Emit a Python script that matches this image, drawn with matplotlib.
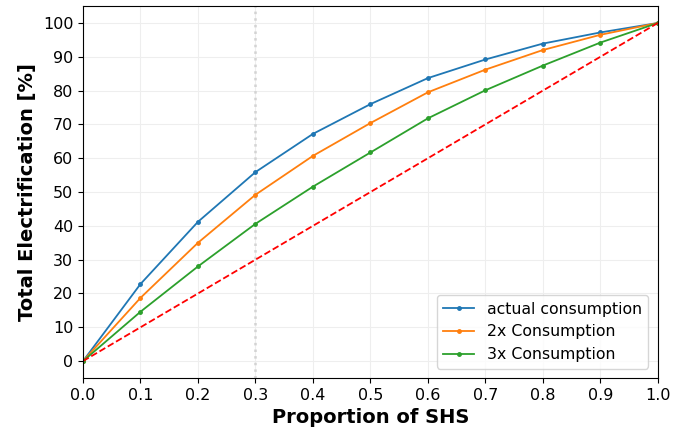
import matplotlib
matplotlib.use("Agg")
import matplotlib.pyplot as plt

shs = [0.0, 0.1, 0.2, 0.3, 0.4, 0.5, 0.6, 0.7, 0.8, 0.9, 1.0]
actual = [0.0, 22.8, 41.2, 55.9, 67.2, 76.0, 83.7, 89.2, 93.9, 97.2, 100.0]
cons_2x = [0.0, 18.7, 35.0, 49.2, 60.7, 70.4, 79.5, 86.2, 92.0, 96.5, 100.0]
cons_3x = [0.0, 14.6, 28.0, 40.6, 51.6, 61.7, 71.8, 80.1, 87.4, 94.2, 100.0]
xticks = [0.0, 0.1, 0.2, 0.3, 0.4, 0.5, 0.6, 0.7, 0.8, 0.9, 1.0]
yticks = [0, 10, 20, 30, 40, 50, 60, 70, 80, 90, 100]

fig = plt.figure(figsize=(6.86, 4.33), dpi=100)
ax = fig.add_axes([0.121, 0.127, 0.838, 0.859])

ax.plot(shs, actual, marker="o", markersize=2.5, linewidth=1.3, color="#1f77b4", label="actual consumption")
ax.plot(shs, cons_2x, marker="o", markersize=2.5, linewidth=1.3, color="#ff7f0e", label="2x Consumption")
ax.plot(shs, cons_3x, marker="o", markersize=2.5, linewidth=1.3, color="#2ca02c", label="3x Consumption")

# diagonal reference and marker at 0.3
ax.plot([0, 1], [0, 100], linestyle="--", color="red", linewidth=1.3)
ax.axvline(0.3, linestyle=":", color="lightgray", linewidth=1.8, zorder=1)

ax.set_xlim(0, 1)
ax.set_ylim(-5, 105)
ax.set_xticks(xticks)
ax.set_yticks(yticks)
ax.tick_params(labelsize=11.5)
ax.grid(True, color="#eeeeee", linewidth=0.8)
ax.set_axisbelow(True)

ax.set_xlabel("Proportion of SHS", fontsize=14, fontweight="bold")
ax.set_ylabel("Total Electrification [%]", fontsize=14, fontweight="bold")
ax.legend(loc="lower right", fontsize=11.3, borderaxespad=0.6)

plt.savefig("out.png")
plt.close()
